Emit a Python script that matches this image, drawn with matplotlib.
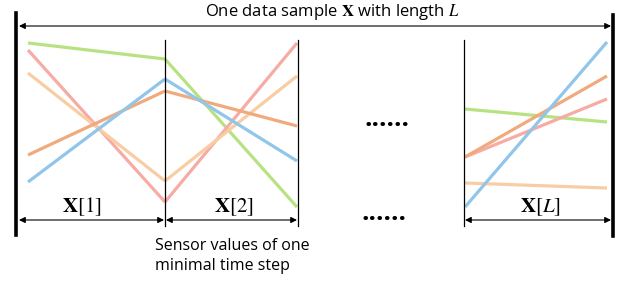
import matplotlib.pyplot as plt

plt.rcParams['font.family'] = ['Open Sans', 'DejaVu Sans']
plt.rcParams['mathtext.fontset'] = 'stix'

# colours of the five sensors
colors = ['#b8e282', '#f6aca5', '#f9cda3', '#f0aa7e', '#90c6ea']

# sensor values at the boundaries of each time step (pixel rows, top = small)
seg1_x = [28, 165]
seg1 = [[43, 59], [50, 202], [73, 181], [155, 91], [182, 79]]
seg2_x = [165, 297]
seg2 = [[59, 207], [202, 43], [181, 76], [91, 126], [79, 161]]
segL_x = [465, 607]
segL = [[109, 122], [157, 99], [183, 188], [157, 76], [207, 42]]

labels = [r'$\mathbf{X}[1]$', r'$\mathbf{X}[2]$', r'$\mathbf{X}[L]$']
label_x = [82, 234, 540]

fig = plt.figure(figsize=(6.25, 2.84), dpi=100)
ax = fig.add_axes([0, 0, 1, 1])
ax.set_xlim(0, 625)
ax.set_ylim(284, 0)
ax.axis('off')

# sensor lines
for xs, seg in [(seg1_x, seg1), (seg2_x, seg2), (segL_x, segL)]:
    for c, ys in zip(colors, seg):
        ax.plot(xs, ys, color=c, lw=2.3, solid_capstyle='butt')

# outer thick bars
ax.plot([16, 16], [13, 235], color='black', lw=2.6)
ax.plot([613, 613], [15, 236], color='black', lw=2.6)

# thin step borders
for x in [165, 298, 464]:
    ax.plot([x, x], [40, 226], color='black', lw=0.9)

arrow = dict(arrowstyle='<|-|>', color='black', lw=0.8, mutation_scale=9,
             shrinkA=0, shrinkB=0)
ax.annotate('', xy=(611, 26), xytext=(19, 26), arrowprops=arrow)
for x0, x1 in [(19, 164), (166, 297), (465, 611)]:
    ax.annotate('', xy=(x1, 220), xytext=(x0, 220), arrowprops=arrow)

ax.text(332, 12, r'One data sample $\mathbf{X}$ with length $L$',
        ha='center', va='center', fontsize=12)
for lx, lab in zip(label_x, labels):
    ax.text(lx, 207, lab, ha='center', va='center', fontsize=15)

ax.text(387, 126, '......', ha='center', va='baseline', fontsize=19, fontweight='bold')
ax.text(384, 220, '......', ha='center', va='baseline', fontsize=19, fontweight='bold')

ax.text(155, 256, 'Sensor values of one\nminimal time step', ha='left',
        va='center', fontsize=11.5, linespacing=1.3)

fig.savefig('out.png', dpi=100)
